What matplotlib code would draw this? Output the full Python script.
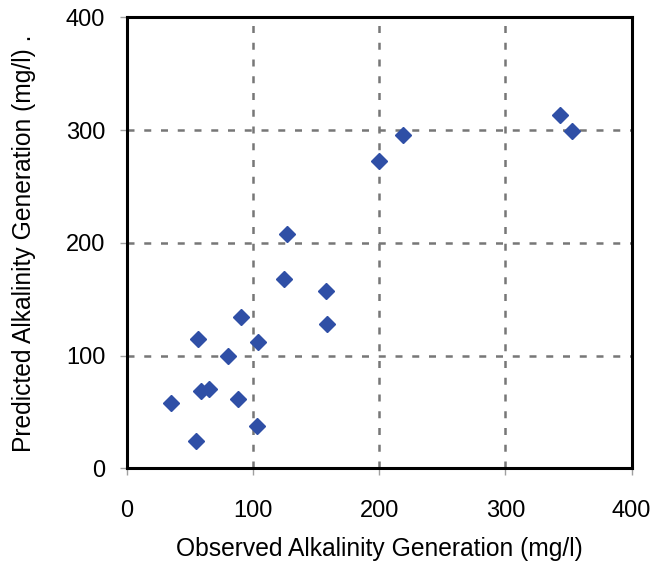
import matplotlib
matplotlib.use("Agg")
import matplotlib.pyplot as plt

# observed vs predicted alkalinity generation (mg/l)
observed = [343.6, 353.1, 218.8, 200.1, 127.2, 124.8, 157.7, 158.5, 90.5, 56.3,
            104.3, 80.3, 58.5, 65.2, 88.2, 34.8, 102.9, 54.7]
predicted = [313.3, 299.1, 295.8, 272.4, 207.8, 168.2, 157.5, 128.2, 134.4, 114.5,
             111.8, 99.7, 68.9, 70.0, 61.8, 58.2, 37.2, 24.2]
ticks = [0, 100, 200, 300, 400]

plt.rcParams['font.family'] = ['Liberation Sans', 'DejaVu Sans']

fig = plt.figure(figsize=(6.67, 5.63), dpi=100)
ax = fig.add_axes([0.19, 0.168, 0.757, 0.801])

ax.plot(observed, predicted, linestyle="none", marker="D", markersize=8.5,
        color="#2f4fa6", zorder=3)

ax.set_xlim(0, 400)
ax.set_ylim(0, 400)
ax.set_xticks(ticks)
ax.set_yticks(ticks)

# dashed grid lines only at inner ticks
dash = (0, (2.8, 3.9))
for t in ticks[1:-1]:
    ax.axvline(t, color="#777777", linestyle=dash, linewidth=1.8, zorder=1)
    ax.axhline(t, color="#777777", linestyle=dash, linewidth=1.8, zorder=1)

for s in ax.spines.values():
    s.set_linewidth(2.2)
    s.set_color("black")

ax.tick_params(direction="out", length=5, width=1, color="#a0a0a0", labelsize=17)
ax.tick_params(axis="x", pad=18)
ax.tick_params(axis="y", pad=10.5)

ax.set_xlabel("Observed Alkalinity Generation (mg/l)", fontsize=17.7)
ax.set_ylabel("Predicted Alkalinity Generation (mg/l) .", fontsize=17.7)
ax.xaxis.set_label_coords(0.5, -0.151)
ax.yaxis.set_label_coords(-0.18, 0.5)

plt.savefig("out.png")
plt.close()
